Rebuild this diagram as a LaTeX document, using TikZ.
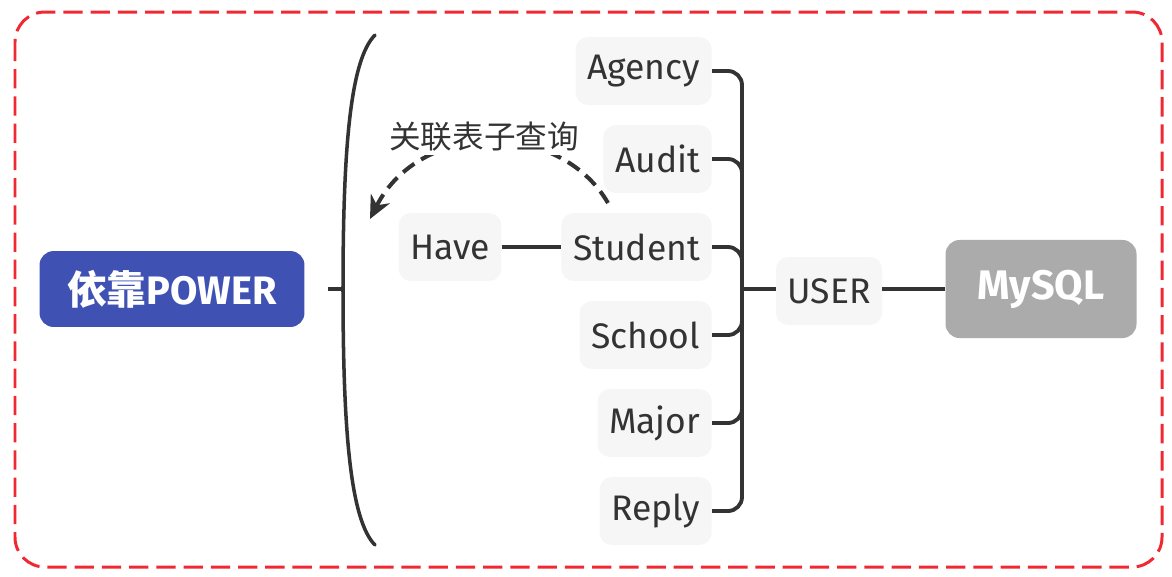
\documentclass[tikz,border=0pt]{standalone}
\usepackage{fontspec}
\setmainfont{Fira Sans}
\newfontfamily\cjk{Noto Sans CJK SC}
\usetikzlibrary{arrows.meta}
\definecolor{rootblue}{RGB}{63,82,180}
\definecolor{sqlgray}{RGB}{171,171,171}
\definecolor{boxgray}{RGB}{246,246,246}
\definecolor{inkgray}{RGB}{51,51,51}
\definecolor{framered}{RGB}{240,40,50}
\tikzset{
  topic/.style={fill=boxgray, rounded corners=7pt, text=inkgray,
    font=\fontsize{20.2}{22}\selectfont, inner xsep=6.6pt, minimum height=38.7pt},
  branch/.style={draw=inkgray, line width=2.2pt, rounded corners=8pt},
}
\begin{document}
\begin{tikzpicture}[x=0.02cm, y=-0.02cm]
  \useasboundingbox (0,0) rectangle (1172,576);
  \draw [framered, line width=1.7pt, dash pattern=on 11pt off 4.5pt, rounded corners=17pt] (15,12) rectangle (1162,567);

  \node [fill=rootblue, rounded corners=8pt, text=white, font=\fontsize{22.6}{24}\selectfont\bfseries,
    minimum width=150.8pt, minimum height=43.2pt] (power) at (172,289) {{\cjk 依靠}POWER};

  % big bracket
  \coordinate (bracetop) at (375,35);
  \coordinate (bracemid) at (343,289);
  \coordinate (bracebot) at (375,545);
  \coordinate (tick) at (328,289);
  \draw [inkgray, line width=2pt, line cap=round] (bracetop) .. controls (350,60) and (343,150) .. (bracemid)
    .. controls (343,428) and (350,520) .. (bracebot);
  \draw [inkgray, line width=2pt] (tick) -- (bracemid);

  \node [topic] (have) at (450,247) {Have};
  \node [topic, anchor=east] (agency) at (712,71) {Agency};
  \node [topic, anchor=east] (audit) at (712,159) {Audit};
  \node [topic, anchor=east] (student) at (712,247) {Student};
  \node [topic, anchor=east] (school) at (712,335) {School};
  \node [topic, anchor=east] (major) at (712,423) {Major};
  \node [topic, anchor=east] (reply) at (712,511) {Reply};
  \draw [branch] (have) -- (student);

  % subquery link
  \coordinate (linkfrom) at (608,203);
  \coordinate (linkto) at (370,219);
  \draw [inkgray, line width=2.3pt, dash pattern=on 8pt off 4.5pt, -{Stealth[length=13pt, width=12pt]}]
    (linkfrom) .. controls (560,120) and (420,120) .. (linkto);
  \node [fill=white, text=inkgray, font=\fontsize{18}{20}\selectfont\cjk, inner sep=2pt] (linklabel) at (484,137) {关联表子查询};

  \coordinate (hub) at (742,289);
  \foreach \t in {agency,audit,student,school,major,reply}
    \draw [branch] (\t.east) -| (hub);
  \node [topic] (user) at (829,291) {USER};
  \draw [branch] (hub) -- (user.west |- hub);

  \node [fill=sqlgray, rounded corners=8pt, text=white, font=\fontsize{23.5}{25}\selectfont\bfseries,
    minimum width=108.7pt, minimum height=55.8pt] (mysql) at (1041,289) {MySQL};
  \draw [branch] (user.east |- mysql) -- (mysql);
\end{tikzpicture}
\end{document}
